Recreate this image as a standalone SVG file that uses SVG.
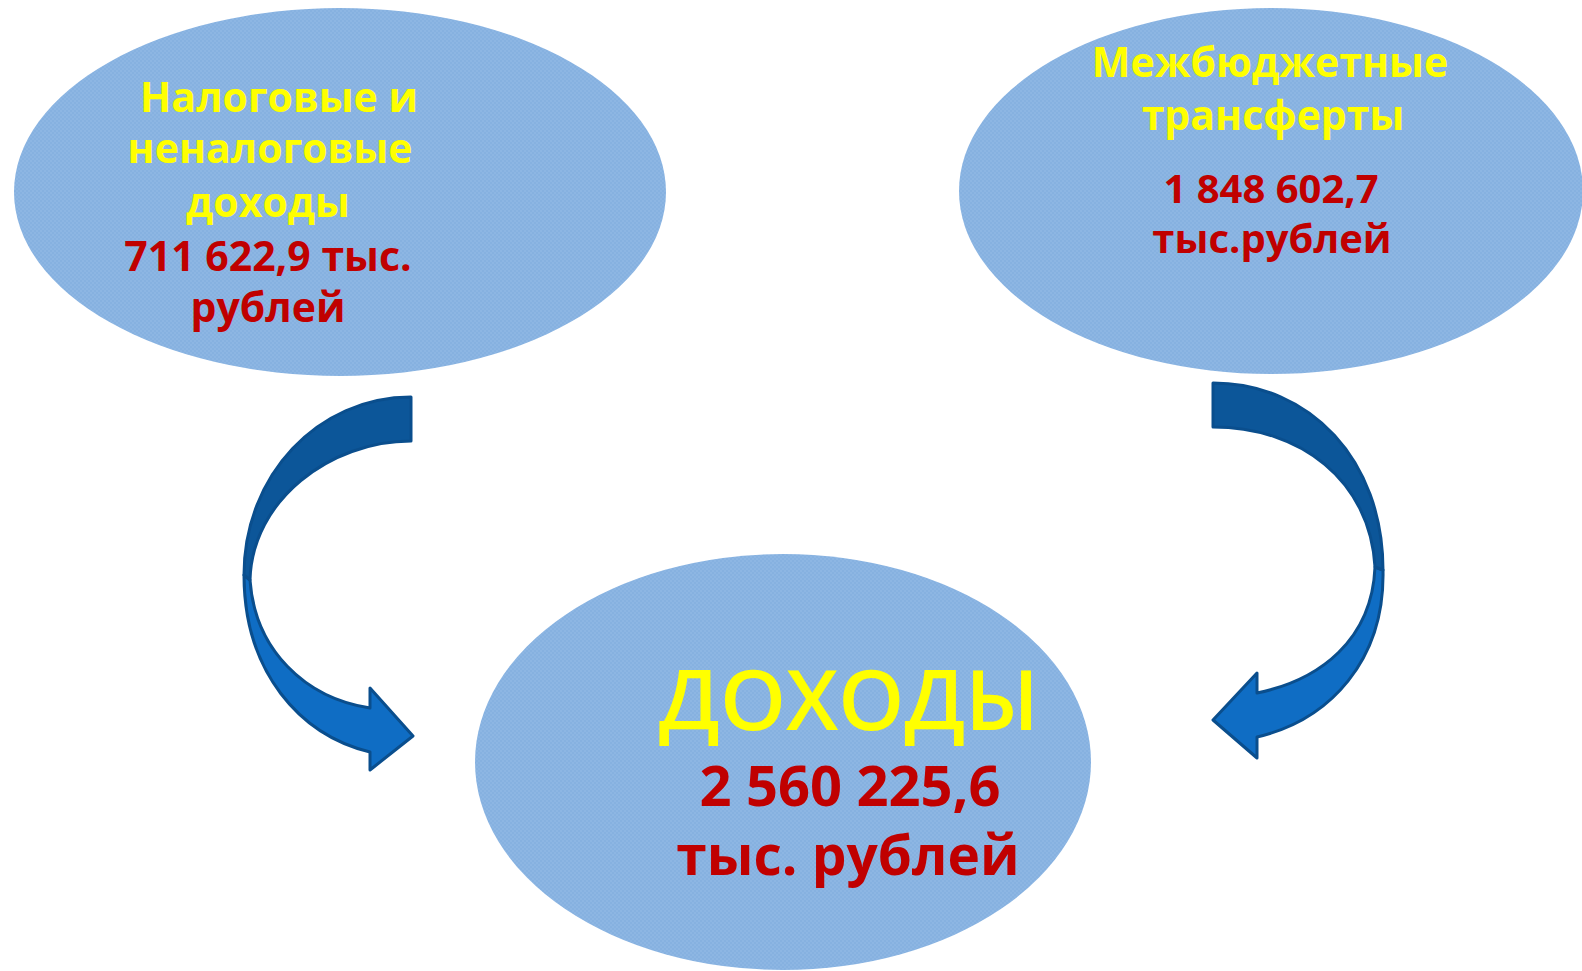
<svg xmlns="http://www.w3.org/2000/svg" width="1582" height="971" viewBox="0 0 1582 971">
<style>
.ell{fill:url(#dots)}
.t{font-family:"Open Sans","Noto Sans","DejaVu Sans",sans-serif;font-weight:bold;text-anchor:middle}
.big{font-weight:600}
.y{fill:#ffff00}
.r{fill:#c00000}
.dark{fill:#0c5699;stroke:#0a4e8d;stroke-width:3;stroke-linejoin:round}
.light{fill:#0f6dc4;stroke:#0a4e8d;stroke-width:3;stroke-linejoin:round}
</style>
<defs>
<pattern id="dots" width="4" height="4" patternUnits="userSpaceOnUse">
<rect width="4" height="4" fill="#8db6e3"/>
<rect width="2" height="2" fill="#86b1e0"/>
<rect x="2" y="2" width="2" height="2" fill="#86b1e0"/>
</pattern>
</defs>
<rect width="1582" height="971" fill="#ffffff"/>
<g id="node-left">
<ellipse class="ell" cx="340" cy="192" rx="326" ry="184"/>
<text class="t y" font-size="41" x="279" y="112">Налоговые и</text>
<text class="t y" font-size="41" x="270" y="163">неналоговые</text>
<text class="t y" font-size="41" x="268" y="217">доходы</text>
<text class="t r" font-size="41" x="268" y="271">711 622,9 тыс.</text>
<text class="t r" font-size="41" x="268" y="322">рублей</text>
</g>
<g id="node-right">
<ellipse class="ell" cx="1271" cy="191" rx="312" ry="183"/>
<text class="t y" font-size="41" x="1270" y="77">Межбюджетные</text>
<text class="t y" font-size="41" x="1273" y="130">трансферты</text>
<text class="t r" font-size="40" x="1271" y="203">1 848 602,7</text>
<text class="t r" font-size="40" x="1272" y="253">тыс.рублей</text>
</g>
<g id="node-bottom">
<ellipse class="ell" cx="783" cy="762" rx="308" ry="208"/>
<text class="t big y" font-size="84" x="849" y="730">ДОХОДЫ</text>
<text class="t r" font-size="56" x="850" y="806">2 560 225,6</text>
<text class="t r" font-size="55" x="848" y="875">тыс. рублей</text>
</g>
<g id="connectors">
<g id="arrow-left">
<path class="light" d="M244,575 C244,672 300,735 370,752 L370,770 L413,736 L370,688 L370,708 C305,698 255,650 250,580 Z"/>
<path class="dark" d="M411,397 L411,441 C330,441 252,500 250,580 L244,575 C244,475 318,397 411,397 Z"/>
</g>
<g id="arrow-right">
<path class="light" d="M1383,570 C1385,660 1330,720 1257,737 L1257,758 L1213,720 L1257,673 L1257,693 C1320,680 1372,640 1375,567 Z"/>
<path class="dark" d="M1213,383 C1310,383 1383,460 1383,570 L1375,567 C1370,480 1300,427 1213,427 Z"/>
</g>
</g>
</svg>
